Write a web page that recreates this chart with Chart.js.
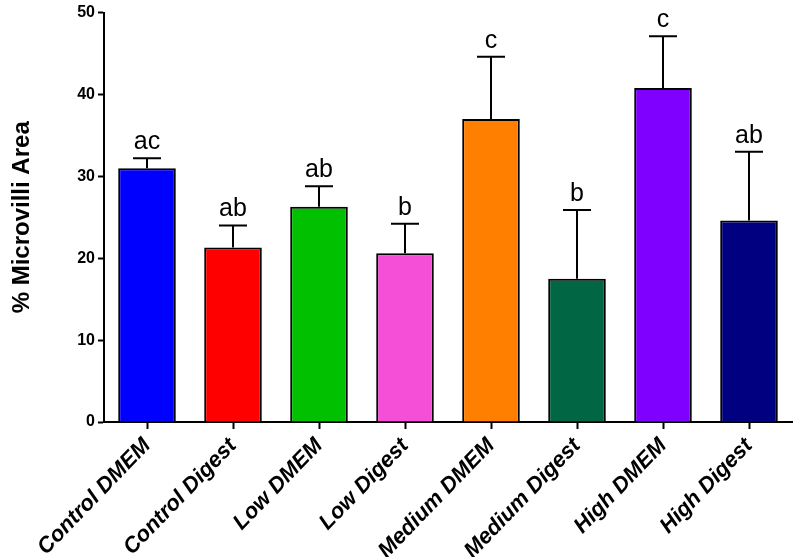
<!DOCTYPE html>
<html>
<head>
  <meta charset="UTF-8">
  <title>% Microvilli Area</title>
  <script src="https://cdn.jsdelivr.net/npm/chart.js"></script>
  <style>
    html, body { margin: 0; padding: 0; background: #fff; }
    #wrap { width: 800px; height: 557px; }
  </style>
</head>
<body>
  <div id="wrap"><canvas id="chart" width="800" height="557"></canvas></div>

  <script>
    // data
    const groups = ['Control DMEM', 'Control Digest', 'Low DMEM', 'Low Digest',
                    'Medium DMEM', 'Medium Digest', 'High DMEM', 'High Digest'];
    const means  = [31.0, 21.3, 26.3, 20.6, 37.0, 17.5, 40.8, 24.6];
    const errors = [1.2, 2.7, 2.5, 3.6, 7.6, 8.4, 6.3, 8.4];
    const letters = ['ac', 'ab', 'ab', 'b', 'c', 'b', 'c', 'ab'];
    const colours = ['#0000ff', '#ff0000', '#00c000', '#f54fd8',
                     '#ff8000', '#006644', '#8000ff', '#000080'];
    const yTicks = [0, 10, 20, 30, 40, 50];

    const font = 'Liberation Sans';

    // draws the upper error bars and the letters over them
    const errorBars = {
      id: 'errorBars',
      afterDatasetsDraw(chart) {
        const ctx = chart.ctx;
        const y = chart.scales.y;
        const bars = chart.getDatasetMeta(0).data;
        ctx.save();
        ctx.strokeStyle = '#000';
        ctx.lineWidth = 2;
        ctx.fillStyle = '#000';
        ctx.font = '25px "' + font + '"';
        ctx.textAlign = 'center';
        ctx.textBaseline = 'alphabetic';
        bars.forEach((bar, i) => {
          const top = y.getPixelForValue(means[i] + errors[i]);
          const base = y.getPixelForValue(means[i]);
          ctx.beginPath();
          ctx.moveTo(bar.x, base);
          ctx.lineTo(bar.x, top);
          ctx.moveTo(bar.x - 14, top);
          ctx.lineTo(bar.x + 14, top);
          ctx.stroke();
          ctx.fillText(letters[i], bar.x, top - 9);
        });
        ctx.restore();
      }
    };

    new Chart(document.getElementById('chart'), {
      type: 'bar',
      data: {
        labels: groups,
        datasets: [{
          data: means,
          backgroundColor: colours,
          borderColor: '#000',
          borderWidth: 2,
          borderSkipped: 'bottom',
          barPercentage: 0.67,
          categoryPercentage: 1.0
        }]
      },
      options: {
        responsive: false,
        animation: false,
        layout: { padding: { top: 6, right: 8, left: 0, bottom: 0 } },
        plugins: {
          legend: { display: false },
          tooltip: { enabled: false }
        },
        scales: {
          x: {
            grid: {
              offset: false,
              drawOnChartArea: false,
              drawTicks: true,
              tickLength: 7,
              tickWidth: 2,
              color: '#000'
            },
            border: { display: true, color: '#000', width: 2 },
            ticks: {
              color: '#000',
              minRotation: 46,
              maxRotation: 46,
              padding: 4,
              font: { family: font, size: 22, weight: 'bold', style: 'italic' }
            },
            afterFit(scale) { scale.height = 135; }
          },
          y: {
            min: 0,
            max: 50,
            afterBuildTicks(scale) { scale.ticks = yTicks.map(v => ({ value: v })); },
            grid: {
              drawOnChartArea: false,
              drawTicks: true,
              tickLength: 6,
              tickWidth: 2,
              color: '#000'
            },
            border: { display: true, color: '#000', width: 2 },
            ticks: {
              color: '#000',
              padding: 3,
              font: { family: font, size: 16, weight: 'bold' }
            },
            title: {
              display: true,
              text: '% Microvilli Area',
              color: '#000',
              padding: { top: 8, bottom: 10 },
              font: { family: font, size: 24, weight: 'bold' }
            },
            afterFit(scale) { scale.width = 104; }
          }
        }
      },
      plugins: [errorBars]
    });
  </script>
</body>
</html>
